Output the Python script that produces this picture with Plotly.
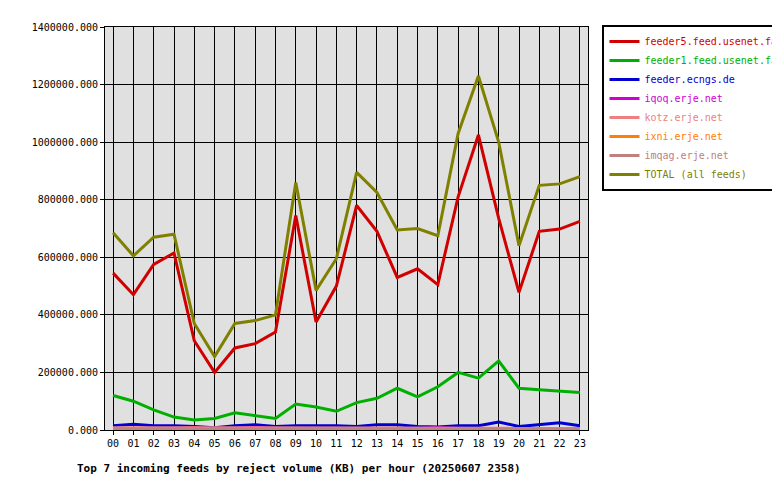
import plotly.graph_objects as go

hours = [f"{h:02d}" for h in range(24)]
feeder5 = [545000,470000,575000,615000,310000,200000,285000,300000,340000,745000,375000,500000,780000,690000,530000,560000,505000,810000,1025000,735000,478000,690000,698000,725000]
feeder1 = [120000,100000,70000,45000,35000,40000,60000,50000,40000,90000,80000,65000,95000,110000,145000,115000,150000,200000,180000,240000,145000,140000,135000,130000]
ecngs = [15000,20000,15000,15000,12000,8000,15000,18000,12000,15000,15000,15000,12000,18000,18000,12000,10000,15000,15000,28000,12000,18000,25000,15000]
iqoq = [5000,5000,5000,5000,9000,4000,5000,9000,5000,5000,5000,5000,5000,5000,5000,5000,8000,5000,5000,5000,5000,5000,5000,5000]
kotz = [8000,8000,8000,8000,8000,6000,7000,8000,8000,7000,7000,7000,7000,6000,8000,8000,7000,7000,7000,6000,6000,6000,6000,6000]
ixni = [4000]*24
imqag = [3000]*24
total = [685000,605000,670000,680000,370000,255000,370000,380000,400000,860000,485000,595000,895000,825000,695000,700000,675000,1030000,1230000,1000000,640000,850000,855000,880000]

series = [
    ("feeder5.feed.usenet.farm", feeder5, "#d00000"),
    ("feeder1.feed.usenet.farm", feeder1, "#00b000"),
    ("feeder.ecngs.de", ecngs, "#0000d0"),
    ("iqoq.erje.net", iqoq, "#d000d0"),
    ("kotz.erje.net", kotz, "#f08080"),
    ("ixni.erje.net", ixni, "#ff8000"),
    ("imqag.erje.net", imqag, "#c08080"),
    ("TOTAL (all feeds)", total, "#808000"),
]

fig = go.Figure()
for name, vals, col in series:
    fig.add_trace(go.Scatter(x=hours, y=vals, name=f"<span style='color:{col}'>{name}</span>",
                             mode="lines", line=dict(color=col, width=3)))
fig.update_layout(
    width=780, height=480, paper_bgcolor="white", plot_bgcolor="#e0e0e0",
    margin=dict(l=97, r=200, t=19, b=58, autoexpand=False),
    font=dict(family="DejaVu Sans Mono", size=10, color="black"),
    showlegend=True,
    legend=dict(x=1.03, y=1.005, xanchor="left", yanchor="top",
                bordercolor="black", borderwidth=2, bgcolor="white",
                font=dict(size=10), tracegroupgap=0, itemwidth=30,
                entrywidth=150),
    xaxis=dict(showgrid=True, gridcolor="black", gridwidth=1, showline=True,
               linecolor="black", linewidth=1, mirror=True, ticks="outside",
               ticklen=4, tickcolor="black", range=[-0.4, 23.4], automargin=False),
    yaxis=dict(range=[0, 1400000], dtick=200000, tickformat=".3f",
               showgrid=True, gridcolor="black", gridwidth=1, showline=True,
               linecolor="black", linewidth=1, mirror=True, ticks="outside",
               ticklen=4, tickcolor="black", zeroline=False, automargin=False),
    annotations=[dict(text="<b>Top 7 incoming feeds by reject volume (KB) per hour (20250607 2358)</b>",
                      xref="paper", yref="paper", x=-0.062, y=-0.095, xanchor="left",
                      yanchor="middle", showarrow=False, font=dict(size=11))],
)
fig.write_html("out.html")
